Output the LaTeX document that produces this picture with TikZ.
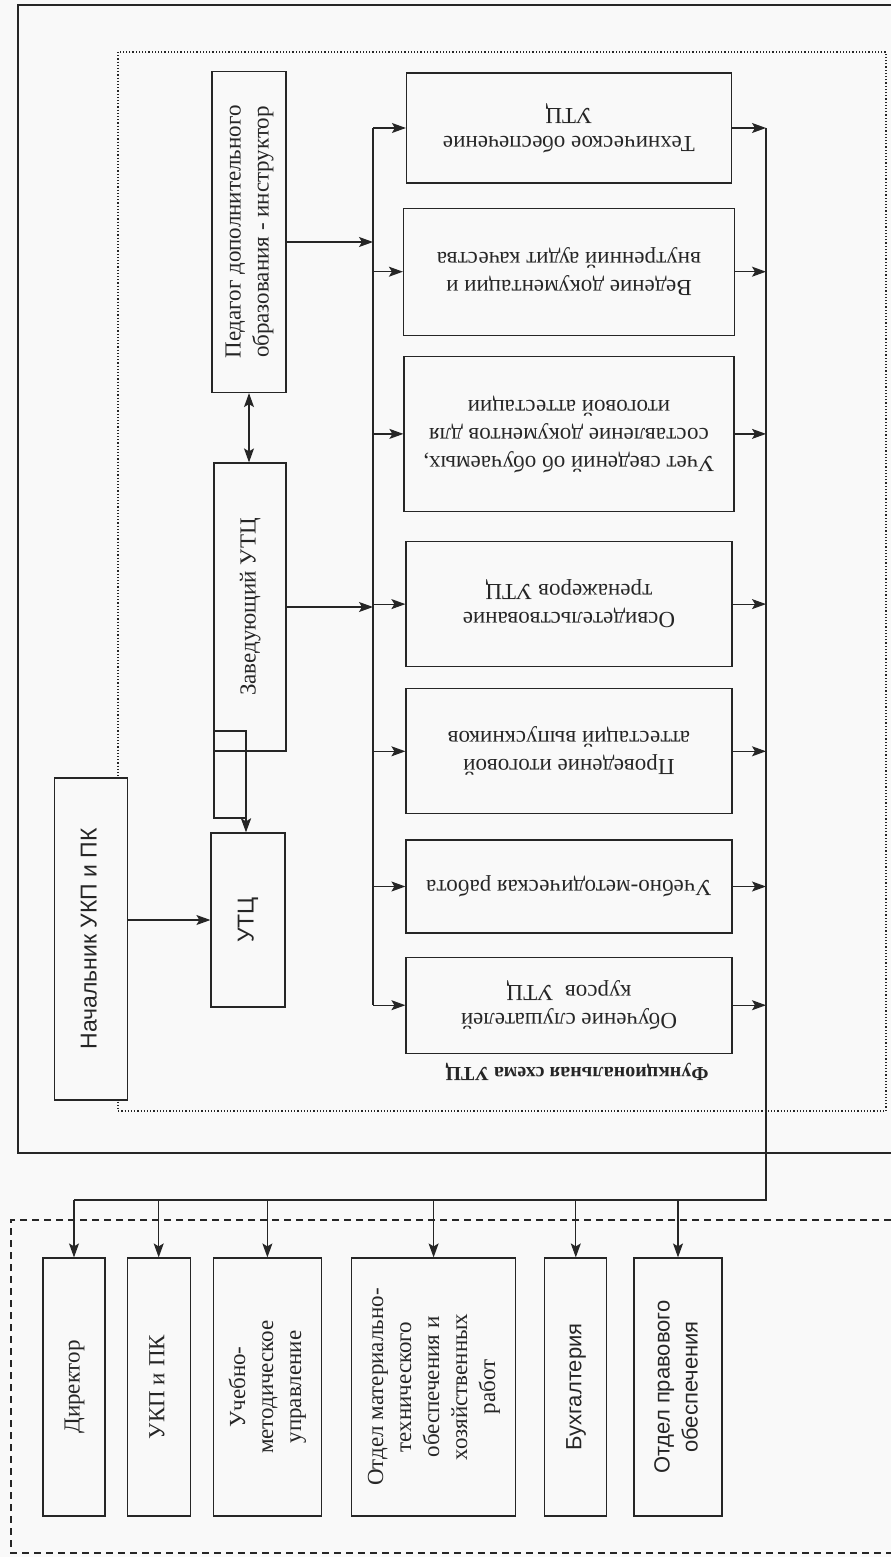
\documentclass[tikz,border=0pt]{standalone}
\usepackage{fontspec}
\setmainfont{Liberation Serif}
\setsansfont{Liberation Sans}
\usetikzlibrary{positioning,arrows.meta}
\newcommand{\flipped}[1]{\rotatebox{180}{\begin{tabular}{@{}c@{}}#1\end{tabular}}}
\newcommand{\turned}[1]{\rotatebox{90}{\begin{tabular}{@{}c@{}}#1\end{tabular}}}
\definecolor{paper}{gray}{0.975}
\definecolor{ink}{gray}{0.15}
\begin{document}
\begin{tikzpicture}[
    x=1pt, y=-1pt,
    box/.style={
        rectangle,
        draw=ink,
        fill=paper,
        line width=1.2pt,
        inner sep=0pt,
        align=center,
        text=ink,
        font=\fontsize{23}{28}\selectfont
    },
    func/.style={
        box,
        minimum width=326pt,
        minimum height=125pt
    },
    dept/.style={
        box,
        minimum height=258pt
    },
    arr/.style={
        -{Stealth[length=14pt,width=10pt,inset=3pt]},
        line width=1.2pt,
        draw=ink
    },
    line/.style={
        line width=1.2pt,
        draw=ink
    }
]

\fill[paper] (0,0) rectangle (891,1557);
\useasboundingbox (0,0) rectangle (891,1557);

% Рамки
\draw[line] (891,5) -- (18,5) -- (18,1153) -- (891,1153);
\draw[ink, dotted, line width=1.2pt] (118,52) rectangle (886,1111);
\draw[ink, dashed, line width=1.2pt, dash pattern=on 7pt off 5pt] (891,1220) -- (11,1220) -- (11,1553) -- (891,1553);

% Функции УТЦ
\node[func, minimum width=325pt, minimum height=110pt] (tech) at (569,128) {\flipped{Техническое обеспечение\\УТЦ}};
\node[func, minimum width=331pt, minimum height=127pt, below=24pt of tech] (ved) {\flipped{Ведение документации и\\внутренний аудит качества}};
\node[func, minimum width=330pt, minimum height=155pt, below=20pt of ved] (uch) {\flipped{Учет сведений об обучаемых,\\составление документов для\\итоговой аттестации}};
\node[func, below=29pt of uch] (osv) {\flipped{Освидетельствование\\тренажеров УТЦ}};
\node[func, below=21pt of osv] (prov) {\flipped{Проведение итоговой\\аттестаций выпускников}};
\node[func, minimum height=93pt, below=25pt of prov] (umr) {\flipped{Учебно-методическая работа}};
\node[func, minimum height=96pt, below=23pt of umr] (obuch) {\flipped{Обучение слушателей\\курсов\ \ УТЦ}};

\node[box, fill=none, draw=none, font=\fontsize{20}{24}\selectfont\bfseries] (title) at (577,1072) {\flipped{Функциональная схема УТЦ}};

% Руководство
\node[box, minimum width=74pt, minimum height=321pt] (ped) at (249,232) {\turned{Педагог дополнительного\\образования - инструктор}};
\node[box, minimum width=72pt, minimum height=288pt] (zav) at (250,607) {\turned{Заведующий УТЦ}};
\node[box, minimum width=74pt, minimum height=174pt, font=\sffamily\fontsize{23}{28}\selectfont] (utc) at (248,920) {\turned{УТЦ}};
\node[box, minimum width=73pt, minimum height=322pt, font=\sffamily\fontsize{23}{28}\selectfont] (nach) at (91,939) {\turned{Начальник УКП и ПК}};

% Подразделения
\node[dept, minimum width=62pt] (dir) at (74,1387) {\turned{Директор}};
\node[dept, minimum width=63pt, right=21pt of dir] (ukp) {\turned{УКП и ПК}};
\node[dept, minimum width=108pt, right=22pt of ukp] (umu) {\turned{Учебно-\\методическое\\управление}};
\node[dept, minimum width=164pt, right=29pt of umu] (mto) {\turned{Отдел материально-\\технического\\обеспечения и\\хозяйственных\\работ}};
\node[dept, minimum width=62pt, right=28pt of mto, font=\sffamily\fontsize{22}{28}\selectfont] (buh) {\turned{Бухгалтерия}};
\node[dept, minimum width=88pt, right=26pt of buh, font=\sffamily\fontsize{22}{28}\selectfont] (prav) {\turned{Отдел правового\\обеспечения}};

% Шины
\coordinate (lbus) at (373,0);
\coordinate (rbus) at (766,0);
\coordinate (hbus) at (0,1200);

\draw[line] (tech.west -| lbus) -- (obuch.west -| lbus);
\draw[line] (tech.east -| rbus) -- (rbus |- hbus) -- (dir.north |- hbus);

% Стрелки
\foreach \f in {tech,ved,uch,osv,prov,umr,obuch} {
    \draw[arr] (\f.west -| lbus) -- (\f.west);
    \draw[arr] (\f.east) -- (\f.east -| rbus);
}
\foreach \d in {dir,ukp,umu,mto,buh,prav}
    \draw[arr] (\d.north |- hbus) -- (\d.north);

\draw[arr] ([yshift=-10pt]ped.east) -- ([yshift=-10pt]ped.east -| lbus);
\draw[arr] (zav.east) -- (zav.east -| lbus);
\draw[arr] (utc.west -| nach.east) -- (utc.west);
\draw[arr, {Stealth[length=14pt,width=10pt,inset=3pt]}-{Stealth[length=14pt,width=10pt,inset=3pt]}] (ped.south) -- (ped.south |- zav.north);
\draw[line] (214,731) rectangle (246,818);
\draw[arr, line width=2.5pt] (zav.south -| 246,0) -- (utc.north -| 246,0);

\end{tikzpicture}
\end{document}
